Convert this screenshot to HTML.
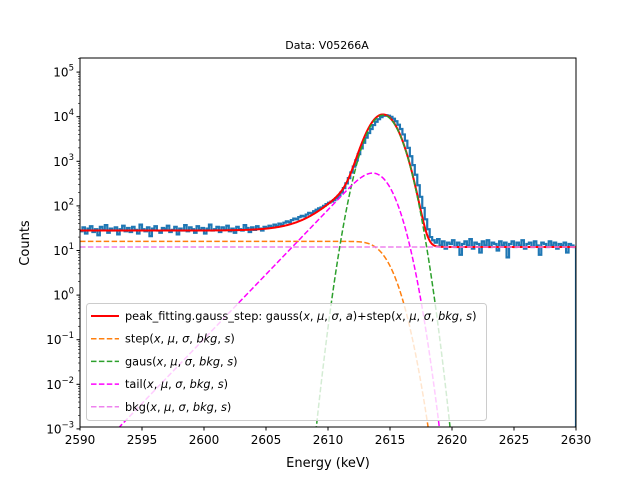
<!DOCTYPE html>
<html><head><meta charset="utf-8"><style>
body{margin:0;background:#fff}
svg text{font-family:"DejaVu Sans","Liberation Sans",sans-serif;fill:#000}
</style></head><body>
<svg id="chart" width="640" height="480" xmlns="http://www.w3.org/2000/svg">
<rect width="640" height="480" fill="#fff"/>
<text x="327" y="49" font-size="11" text-anchor="middle">Data: V05266A</text>
<text x="328" y="467" font-size="13" text-anchor="middle">Energy (keV)</text>
<text transform="translate(29,243) rotate(-90)" font-size="13" text-anchor="middle">Counts</text>
<g id="plot"></g>
</svg>
<script>
const binStart = 2590, binWidth = 0.2;
const counts = [27,33,24,31,35,26,30,22,34,29,37,25,31,28,33,23,30,36,27,32,
26,34,29,24,38,30,27,33,21,31,35,28,25,32,30,36,26,29,34,23,
31,28,37,27,33,30,25,35,29,32,24,31,38,28,30,34,26,33,29,36,
27,31,25,34,30,28,37,32,26,33,29,35,31,28,34,
32,36,33,38,35,40,37,42,45,43,48,52,50,56,60,58,64,70,68,76,82,88,92,100,110,
118,125,135,150,170,200,250,320,420,560,760,1050,1450,1950,2600,3400,4300,5300,6500,7700,8800,9800,10500,10800,10500,
9900,9000,7900,6600,5300,4000,2900,2000,1300,820,500,290,160,90,50,30,20,17,15,18,13,16,11,15,14,
17,12,15,8,14,16,13,18,11,15,14,9,16,13,17,12,15,14,10,16,13,15,7,14,16,12,15,13,17,11,14,15,12,16,13,8,15,14,12,16,13,15,11,14,13,15,9,14,13,12];
const xTicks = [2590,2595,2600,2605,2610,2615,2620,2625,2630];
const yDecades = [-3,-2,-1,0,1,2,3,4,5];
const fitParams = [2614.45, 0.95, 10800, 1300, 1.5, 16, 12]; // mu, sigma, gaussAmp, tailAmp, tau, stepH, bkg

const L=80,R=576,T=58,B=427;
const X=v=>L+(v-2590)*(R-L)/40;
const Y=v=>250.5-(Math.log10(Math.max(v,1e-9))-1)*44.6;
const NS="http://www.w3.org/2000/svg";
const plot=document.getElementById('plot');
function mk(tag,attrs,parent){const e=document.createElementNS(NS,tag);for(const k in attrs)e.setAttribute(k,attrs[k]);(parent||plot).appendChild(e);return e;}
function erfc(x){const z=Math.abs(x),t=1/(1+0.5*z);const r=t*Math.exp(-z*z-1.26551223+t*(1.00002368+t*(0.37409196+t*(0.09678418+t*(-0.18628806+t*(0.27886807+t*(-1.13520398+t*(1.48851587+t*(-0.82215223+t*0.17087277)))))))));return x>=0?r:2-r;}
const [mu,sg,GA,TA,tau,SH,BK]=fitParams;
const gaus=x=>GA*Math.exp(-((x-mu)**2)/(2*sg*sg));
const tail=x=>TA*Math.exp((x-mu)/tau+sg*sg/(2*tau*tau))*erfc(((x-mu)/sg+sg/tau)/Math.SQRT2)/2;
const step=x=>SH*erfc((x-mu)/(Math.SQRT2*sg))/2;
const bkg=x=>BK;
const total=x=>gaus(x)+tail(x)+step(x)+bkg(x);

const defs=mk('defs',{});const cp=mk('clipPath',{id:'clip'},defs);mk('rect',{x:L,y:T,width:R-L,height:B-T},cp);
const g=mk('g',{'clip-path':'url(#clip)'});
let d='';counts.forEach((c,i)=>{const x0=X(binStart+i*binWidth),x1=X(binStart+(i+1)*binWidth),y=Y(c);d+=(i?'L':'M')+x0.toFixed(2)+','+y.toFixed(2)+'L'+x1.toFixed(2)+','+y.toFixed(2);});
d+='L'+X(2630)+','+(B+5);
const h=mk('path',{d:d,fill:'none',stroke:'#1f77b4','stroke-width':2.2},g);


function curve(f,color,dash,name,w){let p='';for(let x=2590;x<=2630.001;x+=0.05){let y=Math.min(Math.max(Y(f(x)),T-50),B+50);p+=(p?'L':'M')+X(x).toFixed(2)+','+y.toFixed(2);}
const e=mk('path',{d:p,fill:'none',stroke:color,'stroke-width':w||1.5},g);if(dash)e.setAttribute('stroke-dasharray',dash);

}
curve(total,'#ff0000',null,'fit-curve',2);
curve(step,'#ff7f0e','5.5,2.4','step-curve');
curve(gaus,'#2ca02c','5.5,2.4','gaus-curve');
curve(tail,'#ff00ff','5.5,2.4','tail-curve');
curve(bkg,'#ee82ee','5.5,2.4','bkg-curve');
mk('rect',{x:L,y:T,width:R-L,height:B-T,fill:'none',stroke:'#000','stroke-width':1});
xTicks.forEach(v=>{mk('line',{x1:X(v),x2:X(v),y1:B,y2:B+3.5,stroke:'#000'});
const t=mk('text',{x:X(v),y:B+17,'font-size':12,'text-anchor':'middle'});t.textContent=v;

});
yDecades.forEach(k=>{const y=Y(Math.pow(10,k));mk('line',{x1:L-3.5,x2:L,y1:y,y2:y,stroke:'#000'});
for(let m=2;m<10;m++){const ym=Y(m*Math.pow(10,k));if(ym>T&&ym<B)mk('line',{x1:L-2,x2:L,y1:ym,y2:ym,stroke:'#000','stroke-width':0.6});}
const t=mk('text',{x:L-6,y:y+4.5,'font-size':12,'text-anchor':'end'});
t.innerHTML='10<tspan dy="-6" font-size="8.5">'+(k<0?'\u2212'+(-k):k)+'</tspan>';

});
const lg=mk('g',{});


mk('rect',{x:86.5,y:303.5,width:400,height:117,rx:3,fill:'#fff','fill-opacity':0.8,stroke:'#cccccc'},lg);
const entries=[['#ff0000',null,'peak_fitting.gauss_step: gauss(<tspan font-style="italic">x</tspan>, <tspan font-style="italic">μ</tspan>, <tspan font-style="italic">σ</tspan>, <tspan font-style="italic">a</tspan>)+step(<tspan font-style="italic">x</tspan>, <tspan font-style="italic">μ</tspan>, <tspan font-style="italic">σ</tspan>, <tspan font-style="italic">bkg</tspan>, <tspan font-style="italic">s</tspan>)','legend-fit'],
['#ff7f0e','5.5,2.4','step(','legend-step'],['#2ca02c','5.5,2.4','gaus(','legend-gaus'],['#ff00ff','5.5,2.4','tail(','legend-tail'],['#ee82ee','5.5,2.4','bkg(','legend-bkg']];
const args='<tspan font-style="italic">x</tspan>, <tspan font-style="italic">μ</tspan>, <tspan font-style="italic">σ</tspan>, <tspan font-style="italic">bkg</tspan>, <tspan font-style="italic">s</tspan>)';
entries.forEach((e,i)=>{const y=316+i*22.7;const l=mk('line',{x1:91,x2:119,y1:y,y2:y,stroke:e[0],'stroke-width':e[1]?1.5:2},lg);if(e[1])l.setAttribute('stroke-dasharray',e[1]);
const t=mk('text',{x:125,y:y+4,'font-size':11.3},lg);t.innerHTML=i?e[2]+args:e[2];

});
</script>
</body></html>
